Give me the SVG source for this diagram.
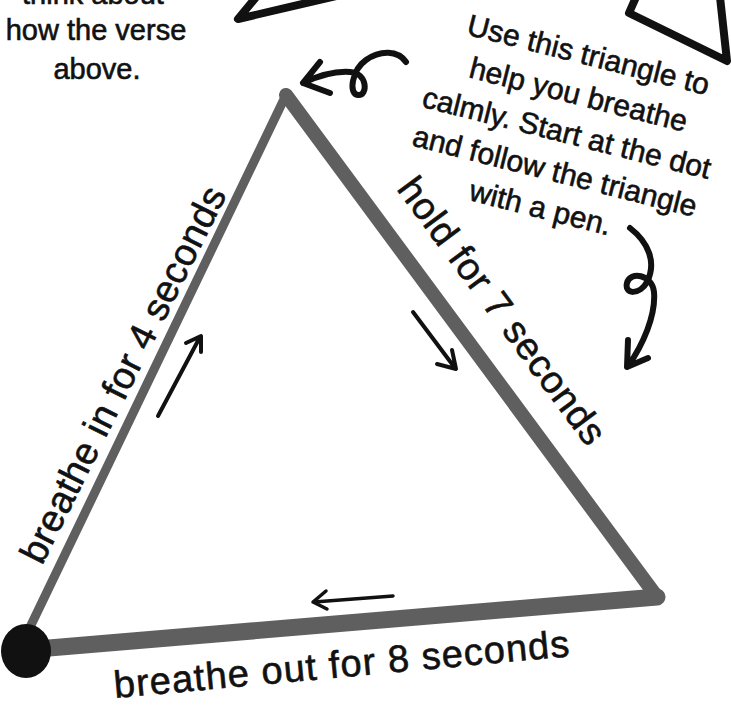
<svg xmlns="http://www.w3.org/2000/svg" width="731" height="709" viewBox="0 0 731 709">
<style>
.t{font-family:"Liberation Sans",Arial,sans-serif;fill:#111;stroke:#111;stroke-width:0.6}
.edge{stroke:#5f5f5f;stroke-linecap:round;fill:none}
.ink{stroke:#111;fill:none;stroke-linecap:round;stroke-linejoin:round}
</style>
<rect width="731" height="709" fill="#fff"/>
<g id="deco">
<polyline class="ink" stroke-width="8" points="262,-10 238,19 345,-6"/>
<polyline class="ink" stroke-width="8" points="640,-12 629,13 727,61 719,-12"/>
</g>
<g id="intro">
<text class="t" font-size="29" text-anchor="middle"><tspan x="93" y="4">think about</tspan><tspan x="96" y="40">how the verse</tspan><tspan x="97" y="79">above.</tspan></text>
</g>
<g id="instructions" transform="translate(588,57) rotate(14.2)">
<text class="t" font-size="30" text-anchor="middle"><tspan x="0" y="8">Use this triangle to</tspan><tspan x="0" y="49">help you breathe</tspan><tspan x="-2" y="89">calmly. Start at the dot</tspan><tspan x="-4" y="129">and follow the triangle</tspan><tspan x="-9" y="168">with a pen.</tspan></text>
</g>
<g id="triangle">
<line class="edge" stroke-width="9" x1="286" y1="95" x2="20" y2="648"/>
<line class="edge" stroke-width="14" x1="286" y1="95" x2="657" y2="597"/>
<line class="edge" stroke-width="17" x1="657" y1="597" x2="25" y2="650"/>
</g>
<g id="start-dot"><ellipse cx="26" cy="651" rx="25" ry="27" fill="#111"/></g>
<g id="labels">
<text class="t" font-size="38" transform="translate(42,566) rotate(-63.5)" textLength="415">breathe in for 4 seconds</text>
<text class="t" font-size="38" transform="translate(396,189) rotate(53.5)" textLength="322">hold for 7 seconds</text>
<text class="t" font-size="38" transform="translate(115,698) rotate(-5.25)" textLength="457">breathe out for 8 seconds</text>
</g>
<g id="connectors">
<path class="ink" stroke-width="4" d="M158,416 L200,337 M186,343 L201,336 L201,352"/>
<path class="ink" stroke-width="4" d="M413,312 L455,368 M452,350 L456,369 L437,364"/>
<path class="ink" stroke-width="3.5" d="M393,596 L314,602 M326,591 L313,602 L327,609"/>
<path class="ink" stroke-width="6" d="M303,83 C320,75 336,71 350,72 C368,73 368,96 358,95 C348,94 352,70 366,60 C380,50 398,50 406,62 M320,62 L303,83 L330,93"/>
<path class="ink" stroke-width="6" d="M630,228 C648,242 657,262 647,282 C640,295 624,295 627,283 C630,271 652,274 654,292 C656,315 643,345 628,366 M628,340 L627,367 L648,358"/>
</g>
</svg>
